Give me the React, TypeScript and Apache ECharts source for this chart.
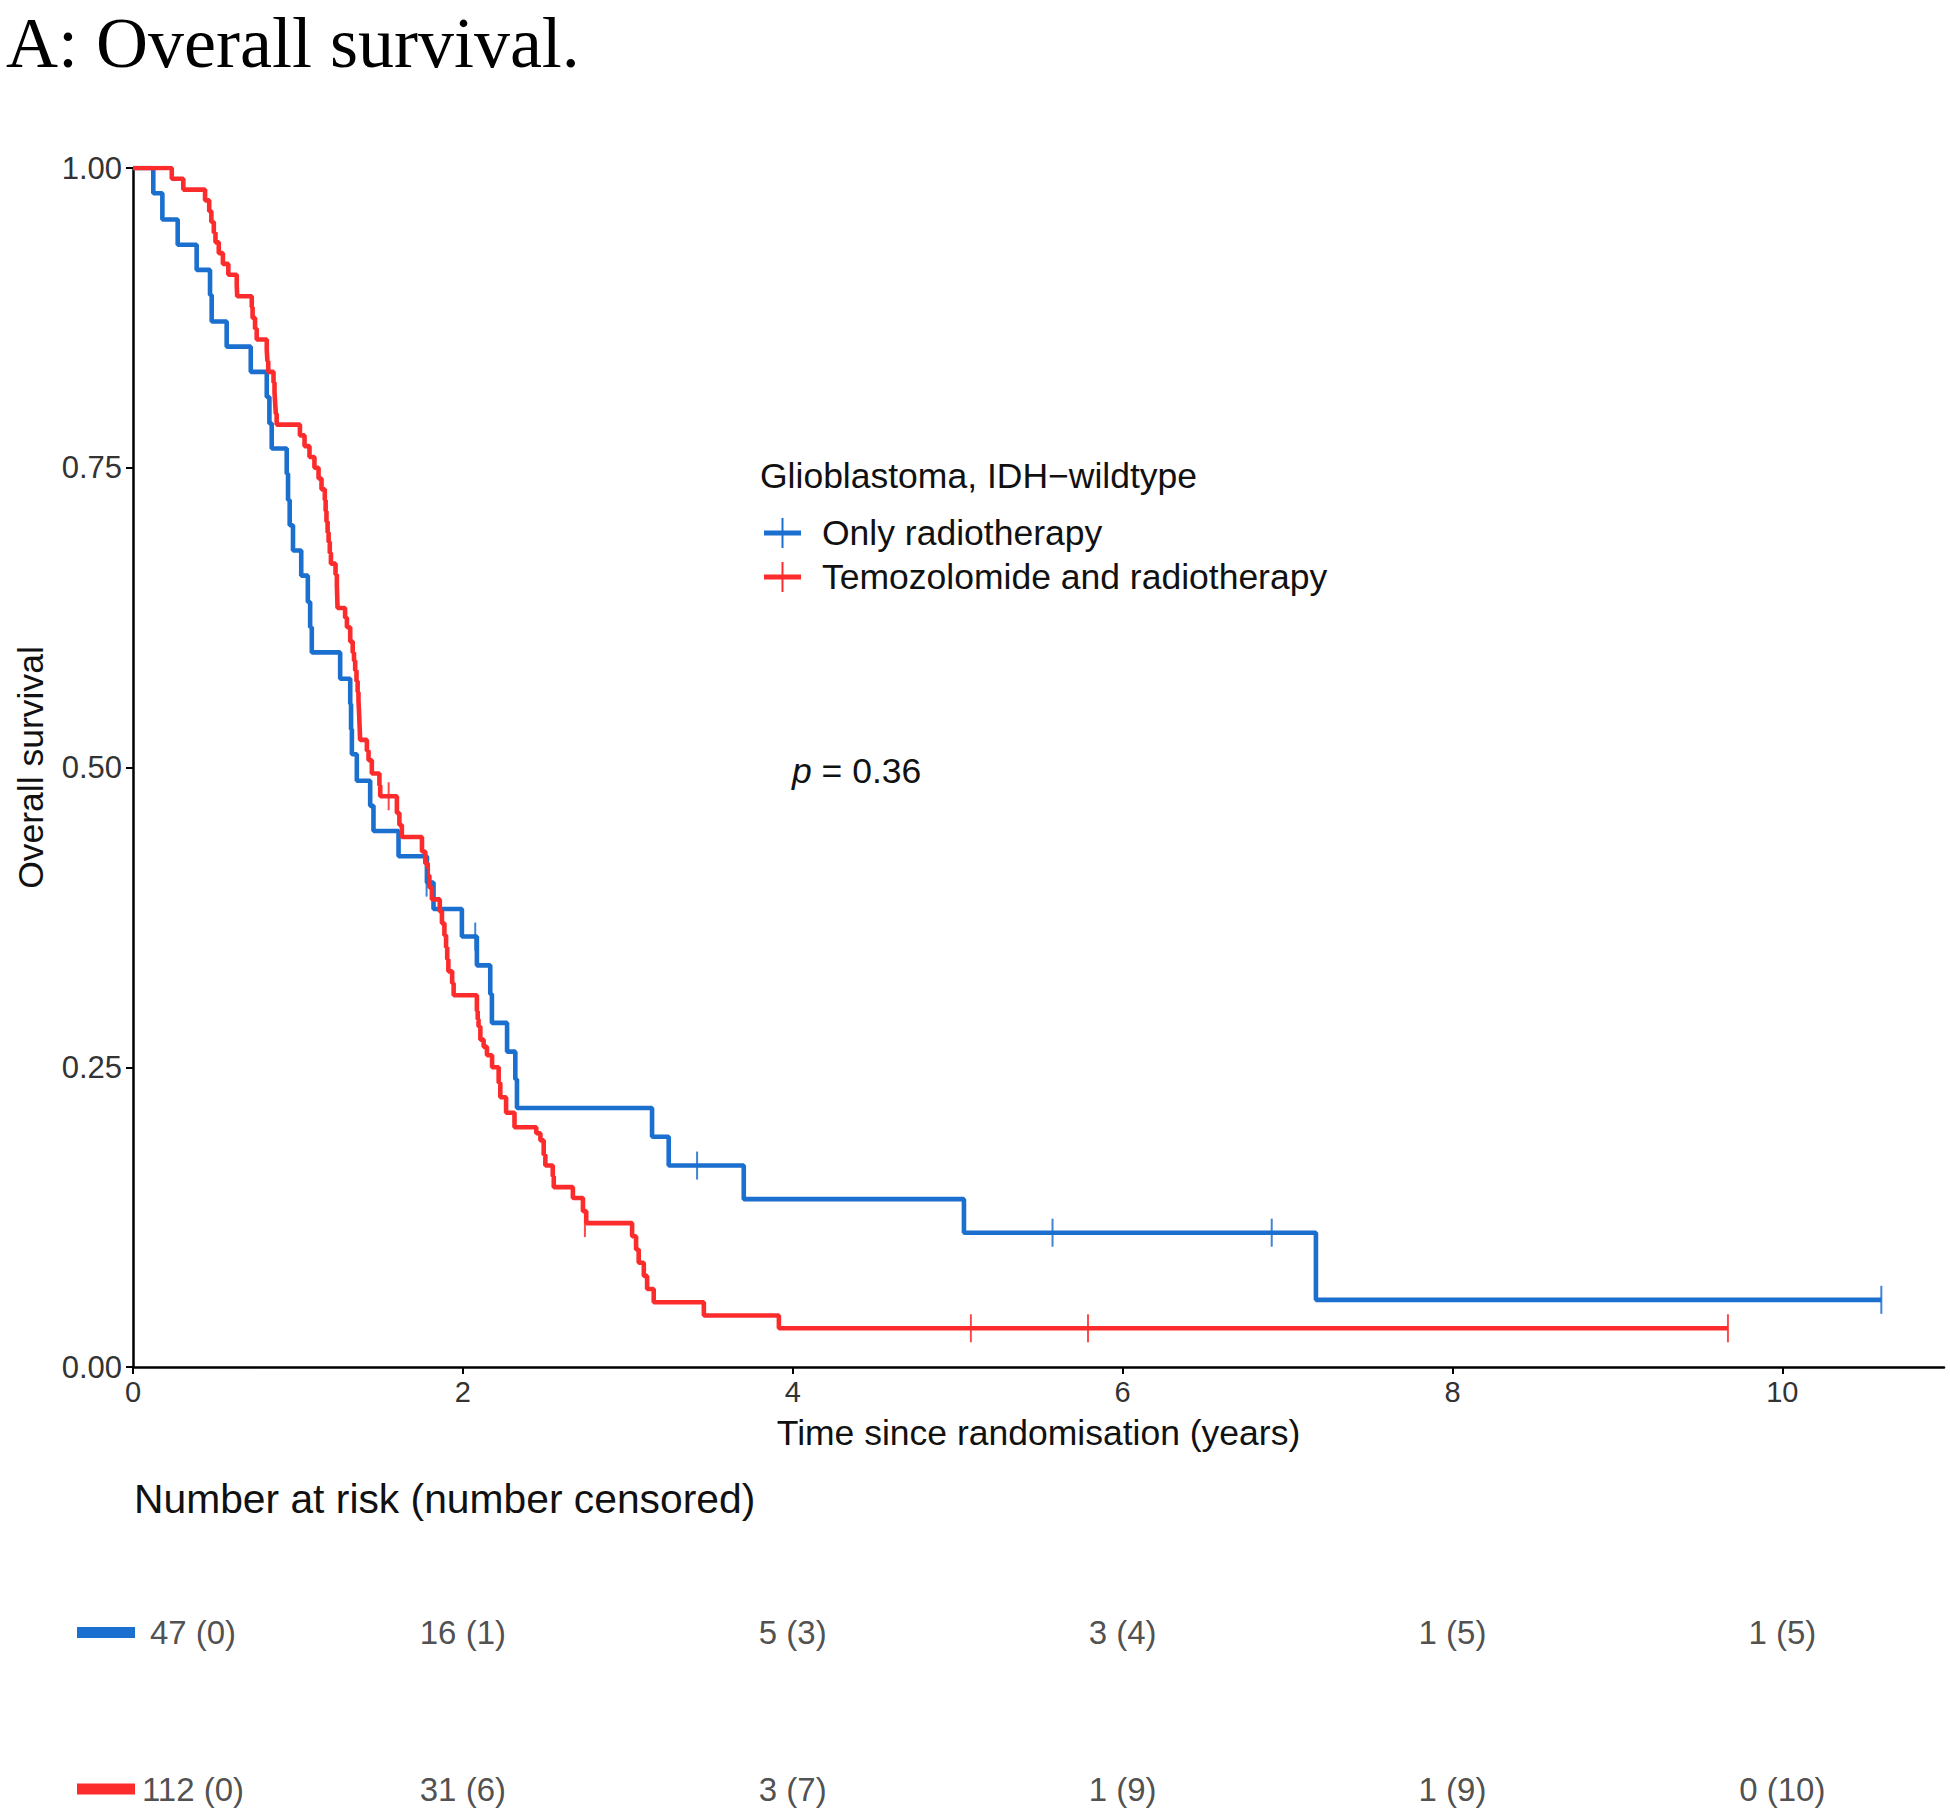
import React, { useEffect, useRef } from "react";
import * as echarts from "echarts";

// ---------- DATA ----------
const TITLE = "A: Overall survival.";
const X_TITLE = "Time since randomisation (years)";
const Y_TITLE = "Overall survival";
const LEGEND_TITLE = "Glioblastoma, IDH\u2212wildtype";
const SERIES_NAMES = ["Only radiotherapy", "Temozolomide and radiotherapy"];
const COLORS = ["#1b6fce", "#fd2c2c"];
const X_TICKS = [0, 2, 4, 6, 8, 10];
const Y_TICKS = [0, 0.25, 0.5, 0.75, 1];
const P_TEXT = "= 0.36";

// Kaplan-Meier steps: [time (years), survival after the drop at that time]
const BLUE_KM: [number, number][] = [
  [0, 1], [0.123, 0.979], [0.178, 0.957], [0.271, 0.936], [0.386, 0.915],
  [0.467, 0.894], [0.477, 0.872], [0.568, 0.851], [0.714, 0.83], [0.811, 0.809],
  [0.827, 0.787], [0.841, 0.766], [0.932, 0.745], [0.94, 0.723], [0.95, 0.702],
  [0.97, 0.681], [1.02, 0.66], [1.06, 0.638], [1.074, 0.617], [1.084, 0.596],
  [1.256, 0.574], [1.317, 0.553], [1.322, 0.532], [1.327, 0.511], [1.357, 0.489],
  [1.438, 0.468], [1.458, 0.447], [1.61, 0.426], [1.782, 0.404], [1.822, 0.382],
  [1.994, 0.359], [2.085, 0.335], [2.166, 0.311], [2.176, 0.287], [2.268, 0.263],
  [2.318, 0.24], [2.328, 0.216], [3.147, 0.192], [3.248, 0.168], [3.703, 0.14],
  [5.038, 0.112], [7.172, 0.056], [10.6, 0.056],
];
const RED_KM: [number, number][] = [
  [0, 1], [0.235, 0.991], [0.305, 0.982], [0.437, 0.973], [0.462, 0.964],
  [0.475, 0.955], [0.49, 0.946], [0.5, 0.938], [0.52, 0.929], [0.545, 0.92],
  [0.578, 0.911], [0.629, 0.902], [0.632, 0.893], [0.72, 0.884], [0.725, 0.875],
  [0.74, 0.866], [0.75, 0.857], [0.811, 0.848], [0.815, 0.839], [0.82, 0.83],
  [0.852, 0.821], [0.858, 0.813], [0.862, 0.804], [0.866, 0.795], [0.871, 0.786],
  [1.012, 0.777], [1.04, 0.768], [1.07, 0.759], [1.1, 0.75], [1.125, 0.741],
  [1.143, 0.732], [1.163, 0.723], [1.168, 0.714], [1.173, 0.705], [1.18, 0.696],
  [1.186, 0.688], [1.193, 0.679], [1.2, 0.67], [1.228, 0.661], [1.236, 0.652],
  [1.238, 0.643], [1.24, 0.633], [1.286, 0.625], [1.297, 0.617], [1.317, 0.605],
  [1.332, 0.596], [1.34, 0.589], [1.347, 0.581], [1.355, 0.572], [1.362, 0.563],
  [1.367, 0.556], [1.371, 0.545], [1.374, 0.534], [1.377, 0.523], [1.418, 0.514],
  [1.428, 0.506], [1.448, 0.495], [1.494, 0.485], [1.499, 0.476], [1.6, 0.462],
  [1.615, 0.452], [1.63, 0.442], [1.752, 0.43], [1.772, 0.42], [1.787, 0.41],
  [1.797, 0.4], [1.812, 0.39], [1.86, 0.38], [1.873, 0.37], [1.888, 0.36],
  [1.898, 0.35], [1.905, 0.34], [1.912, 0.33], [1.935, 0.32], [1.944, 0.31],
  [2.085, 0.297], [2.09, 0.29], [2.095, 0.284], [2.106, 0.273], [2.126, 0.267],
  [2.146, 0.26], [2.177, 0.25], [2.217, 0.237], [2.227, 0.225], [2.262, 0.212],
  [2.313, 0.2], [2.445, 0.195], [2.47, 0.189], [2.49, 0.177], [2.5, 0.168],
  [2.545, 0.159], [2.551, 0.15], [2.667, 0.141], [2.728, 0.13], [2.748, 0.12],
  [3.026, 0.109], [3.05, 0.098], [3.066, 0.087], [3.097, 0.076], [3.117, 0.065],
  [3.157, 0.054], [3.461, 0.043], [3.916, 0.0323], [9.67, 0.0323],
];
const BLUE_CENSOR: [number, number][] = [
  [1.78, 0.404], [2.075, 0.359], [3.42, 0.168], [5.575, 0.112], [6.904, 0.112], [10.6, 0.056],
];
const RED_CENSOR: [number, number][] = [
  [1.55, 0.476], [2.74, 0.12], [5.08, 0.0323], [5.79, 0.0323], [9.67, 0.0323],
];

const RISK_TITLE = "Number at risk (number censored)";
const RISK_TIMES = [0, 2, 4, 6, 8, 10];
const BLUE_RISK = ["47 (0)", "16 (1)", "5 (3)", "3 (4)", "1 (5)", "1 (5)"];
const RED_RISK = ["112 (0)", "31 (6)", "3 (7)", "1 (9)", "1 (9)", "0 (10)"];

const SANS = "'Liberation Sans', Arial, Helvetica, sans-serif";
const SERIF = "'Liberation Serif', 'Times New Roman', serif";

function riskSeries(labels: string[], row: number) {
  return {
    type: "scatter",
    xAxisIndex: 1,
    yAxisIndex: 1,
    symbol: "circle",
    symbolSize: 1,
    itemStyle: { color: "rgba(255,255,255,0)" },
    silent: true,
    z: 10,
    data: RISK_TIMES.map((t, i) => ({
      value: [t, row],
      label: {
        show: true,
        position: "inside",
        formatter: labels[i],
        offset: i === 0 ? [60, 0] : [0, 0],
        fontSize: 33,
        fontFamily: SANS,
        color: "#222",
      },
    })),
  };
}

export default function App() {
  const ref = useRef<HTMLDivElement>(null);
  useEffect(() => {
    if (!ref.current) return;
    const chart = echarts.init(ref.current, undefined, { renderer: "svg" });
    const legendRows = [533, 577];
    const option: any = {
      animation: false,
      backgroundColor: "#ffffff",
      textStyle: { fontFamily: SANS },
      grid: [
        { left: 133, right: 6, top: 168, bottom: 444 },
        { left: 133, right: 6, top: 1632, height: 157 },
      ],
      xAxis: [
        {
          type: "value",
          gridIndex: 0,
          min: 0,
          max: 10.98,
          interval: 2,
          axisLine: { show: true, onZero: false, lineStyle: { color: "#000", width: 2.5 } },
          axisTick: { show: true, length: 7, customValues: X_TICKS, lineStyle: { color: "#000", width: 2 } },
          axisLabel: { customValues: X_TICKS, fontSize: 29, color: "#333", margin: 10, fontFamily: SANS },
          splitLine: { show: false },
          name: X_TITLE,
          nameLocation: "middle",
          nameGap: 48,
          nameTextStyle: { fontSize: 35.5, color: "#111", fontFamily: SANS },
        },
        { type: "value", gridIndex: 1, min: 0, max: 10.98, show: false },
      ],
      yAxis: [
        {
          type: "value",
          gridIndex: 0,
          min: 0,
          max: 1,
          interval: 0.25,
          axisLine: { show: true, onZero: false, lineStyle: { color: "#000", width: 2.5 } },
          axisTick: { show: true, length: 7, customValues: Y_TICKS, lineStyle: { color: "#000", width: 2 } },
          axisLabel: {
            customValues: Y_TICKS,
            fontSize: 31,
            color: "#333",
            margin: 11,
            fontFamily: SANS,
            formatter: (v: number) => v.toFixed(2),
          },
          splitLine: { show: false },
          name: Y_TITLE,
          nameLocation: "middle",
          nameRotate: 90,
          nameGap: 84,
          nameTextStyle: { fontSize: 35.5, color: "#111", fontFamily: SANS },
        },
        { type: "value", gridIndex: 1, min: 0, max: 1, show: false },
      ],
      series: [
        {
          name: SERIES_NAMES[0],
          type: "line",
          step: "end",
          showSymbol: false,
          data: BLUE_KM,
          lineStyle: { color: COLORS[0], width: 4.6 },
          itemStyle: { color: COLORS[0] },
          z: 3,
        },
        {
          name: SERIES_NAMES[1],
          type: "line",
          step: "end",
          showSymbol: false,
          data: RED_KM,
          lineStyle: { color: COLORS[1], width: 4.6 },
          itemStyle: { color: COLORS[1] },
          z: 4,
        },
        {
          type: "scatter",
          symbol: "rect",
          symbolSize: [2, 28],
          data: BLUE_CENSOR,
          itemStyle: { color: COLORS[0], opacity: 0.85 },
          z: 5,
        },
        {
          type: "scatter",
          symbol: "rect",
          symbolSize: [2, 28],
          data: RED_CENSOR,
          itemStyle: { color: COLORS[1], opacity: 0.85 },
          z: 5,
        },
        riskSeries(BLUE_RISK, 1),
        riskSeries(RED_RISK, 0),
      ],
      graphic: [
        {
          type: "text",
          x: 6,
          y: 43,
          style: {
            text: TITLE,
            font: `72px ${SERIF}`,
            fill: "#000",
            verticalAlign: "middle",
            lineHeight: 72,
          },
        },
        {
          type: "text",
          x: 760,
          y: 476,
          style: { text: LEGEND_TITLE, font: `35.5px ${SANS}`, fill: "#111", verticalAlign: "middle" },
        },
        ...SERIES_NAMES.flatMap((name, i) => [
          {
            type: "line",
            shape: { x1: 764, y1: legendRows[i], x2: 801, y2: legendRows[i] },
            style: { stroke: COLORS[i], lineWidth: 5 },
          },
          {
            type: "line",
            shape: { x1: 782.5, y1: legendRows[i] - 15, x2: 782.5, y2: legendRows[i] + 15 },
            style: { stroke: COLORS[i], lineWidth: 2 },
          },
          {
            type: "text",
            x: 822,
            y: legendRows[i],
            style: { text: name, font: `35.5px ${SANS}`, fill: "#111", verticalAlign: "middle" },
          },
        ]),
        {
          type: "text",
          x: 792,
          y: 771,
          style: {
            text: `{i|p} ${P_TEXT}`,
            font: `35.5px ${SANS}`,
            fill: "#111",
            verticalAlign: "middle",
            rich: { i: { fontStyle: "italic", font: `italic 35.5px ${SANS}`, fill: "#111" } },
          },
        },
        {
          type: "text",
          x: 134,
          y: 1499,
          style: { text: RISK_TITLE, font: `40.8px ${SANS}`, fill: "#111", verticalAlign: "middle" },
        },
        {
          type: "rect",
          shape: { x: 77, y: 1627, width: 58, height: 11 },
          style: { fill: COLORS[0] },
        },
        {
          type: "rect",
          shape: { x: 77, y: 1783.5, width: 58, height: 11 },
          style: { fill: COLORS[1] },
        },
      ],
    };
    chart.setOption(option);
    return () => chart.dispose();
  }, []);
  return (
    <div
      ref={ref}
      style={{ position: "absolute", left: 0, top: 0, width: 1950, height: 1811, background: "#fff" }}
    />
  );
}
